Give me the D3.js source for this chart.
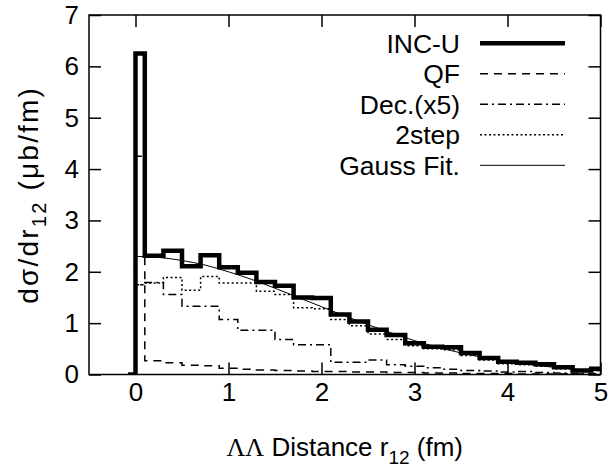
<!DOCTYPE html>
<html>
<head>
<meta charset="utf-8">
<script src="https://cdn.jsdelivr.net/npm/d3@7"></script>
<style>
  body { margin: 0; background: #fff; }
  svg { font-family: 'Liberation Sans', Arial, sans-serif; }
</style>
</head>
<body>
<svg width="610" height="473"></svg>
<script>
// bin edges (fm): short zero piece, the r=0 spike bin, then 0.2 fm bins
const binEdges = [-0.08, 0, 0.1, 0.3, 0.5, 0.7, 0.9, 1.1, 1.3, 1.5, 1.7, 1.9, 2.1, 2.3, 2.5,
	2.7, 2.9, 3.1, 3.3, 3.5, 3.7, 3.9, 4.1, 4.3, 4.5, 4.7, 4.9, 5.1]

const incU = [0, 6.25, 2.31, 2.41, 2.11, 2.32, 2.09, 1.98, 1.80, 1.73, 1.50, 1.49, 1.17, 1.03,
	0.87, 0.77, 0.61, 0.54, 0.53, 0.42, 0.32, 0.25, 0.23, 0.20, 0.14, 0.08, 0.11]
const qf = [0, 4.25, 0.27, 0.23, 0.18, 0.17, 0.12, 0.10, 0.09, 0.08, 0.07, 0.06, 0.06, 0.05,
	0.05, 0.04, 0.04, 0.03, 0.03, 0.02, 0.02, 0.02, 0.01, 0.01, 0.01, 0.01, 0.01]
const dec5 = [0, 1.75, 1.79, 1.56, 1.33, 1.33, 1.07, 0.86, 0.86, 0.68, 0.58, 0.58, 0.24, 0.24,
	0.28, 0.19, 0.16, 0.13, 0.10, 0.08, 0.07, 0.05, 0.06, 0.04, 0.03, 0.02, 0.02]
const twoStep = [0, 1.75, 1.78, 1.89, 1.64, 1.91, 1.78, 1.78, 1.62, 1.56, 1.30, 1.28, 1.07, 0.95,
	0.79, 0.68, 0.56, 0.50, 0.48, 0.37, 0.28, 0.21, 0.19, 0.16, 0.11, 0.06, 0.08]

// gauss fit curve
const fitR = [0, 0.25, 0.5, 0.75, 1, 1.25, 1.5, 1.75, 2, 2.25, 2.5, 2.75, 3, 3.25, 3.5, 3.75,
	4, 4.25, 4.5, 4.75, 5]
const fitVal = [2.30, 2.28, 2.22, 2.13, 2.00, 1.85, 1.68, 1.50, 1.32, 1.14, 0.97, 0.81, 0.66,
	0.53, 0.42, 0.33, 0.25, 0.19, 0.14, 0.10, 0.07]

const xTicks = [0, 1, 2, 3, 4, 5]
const yTicks = [0, 1, 2, 3, 4, 5, 6, 7]
const legendNames = ['INC-U', 'QF', 'Dec.(x5)', '2step', 'Gauss Fit.']

const svg = d3.select('svg')
const margin = {top: 15, right: 9.5, bottom: 98.5, left: 89}
const width = +svg.attr('width')
const height = +svg.attr('height')
const innerWidth = width - margin.left - margin.right
const innerHeight = height - margin.top - margin.bottom
const fontSize = 26

const xScale = d3.scaleLinear().domain([-0.5, 5]).range([0, innerWidth])
const yScale = d3.scaleLinear().domain([0, 7]).range([innerHeight, 0])

const g = svg.append('g')
	.attr('transform', `translate(${margin.left}, ${margin.top})`)

g.append('clipPath').attr('id', 'plotclip')
	.append('rect')
	.attr('width', innerWidth)
	.attr('height', innerHeight)

// axes, ticks pointing inwards on all four sides
const styleAxis = sel => {
	sel.select('.domain').remove()
	sel.selectAll('.tick line').attr('stroke', '#000').attr('stroke-width', 1.5)
	sel.selectAll('text').attr('font-size', fontSize).attr('fill', '#000')
		.attr('font-family', "'Liberation Sans', Arial, sans-serif")
}
// mirror axes: ticks only
const ticksOnly = sel => {
	sel.select('.domain').remove()
	sel.selectAll('.tick text').remove()
	sel.selectAll('.tick line').attr('stroke', '#000').attr('stroke-width', 1.5)
}

g.append('g')
	.attr('transform', `translate(0, ${innerHeight})`)
	.call(d3.axisBottom(xScale).tickValues(xTicks).tickSize(-12).tickPadding(8)
		.tickFormat(d3.format('d')))
	.call(styleAxis)

g.append('g')
	.call(d3.axisTop(xScale).tickValues(xTicks).tickSize(-12))
	.call(ticksOnly)

g.append('g')
	.call(d3.axisLeft(yScale).tickValues(yTicks).tickSize(-12).tickPadding(10)
		.tickFormat(d3.format('d')))
	.call(styleAxis)

g.append('g')
	.attr('transform', `translate(${innerWidth}, 0)`)
	.call(d3.axisRight(yScale).tickValues(yTicks).tickSize(-12))
	.call(ticksOnly)

// histogram steps
const stepLine = vals => {
	const pts = vals.map((v, i) => [binEdges[i], v])
	pts.push([binEdges[vals.length], vals[vals.length - 1]])
	return d3.line()
		.x(d => xScale(d[0]))
		.y(d => yScale(d[1]))
		.curve(d3.curveStepAfter)(pts)
}

const series = [
	{vals: incU, width: 4.5, dash: null},
	{vals: qf, width: 1.5, dash: '8,6'},
	{vals: dec5, width: 1.5, dash: '8,4,2,4'},
	{vals: twoStep, width: 1.5, dash: '2,2.5'}
]

const plot = g.append('g').attr('clip-path', 'url(#plotclip)')

series.forEach(s => {
	plot.append('path')
		.attr('d', stepLine(s.vals))
		.attr('fill', 'none')
		.attr('stroke', '#000')
		.attr('stroke-width', s.width)
		.attr('stroke-linejoin', 'miter')
		.attr('stroke-dasharray', s.dash)
})

plot.append('path')
	.datum(fitR.map((r, i) => [r, fitVal[i]]))
	.attr('d', d3.line()
		.x(d => xScale(d[0]))
		.y(d => yScale(d[1]))
		.curve(d3.curveMonotoneX))
	.attr('fill', 'none')
	.attr('stroke', '#000')
	.attr('stroke-width', 1)

// frame
g.append('rect')
	.attr('width', innerWidth)
	.attr('height', innerHeight)
	.attr('fill', 'none')
	.attr('stroke', '#000')
	.attr('stroke-width', 1.5)

// legend
const styles = series.concat([{width: 1, dash: null}])
const legend = g.append('g')
legendNames.forEach((name, i) => {
	const y = 28.3 + i * 30.5
	legend.append('text')
		.attr('x', 371)
		.attr('y', y)
		.attr('dy', '0.35em')
		.attr('text-anchor', 'end')
		.attr('font-size', 26.5)
		.text(name)
	legend.append('line')
		.attr('x1', 391).attr('x2', 476)
		.attr('y1', y).attr('y2', y)
		.attr('stroke', '#000')
		.attr('stroke-width', styles[i].width)
		.attr('stroke-dasharray', styles[i].dash)
})

// axis titles
const xTitle = svg.append('text')
	.attr('x', margin.left + innerWidth / 2)
	.attr('y', 456)
	.attr('text-anchor', 'middle')
	.attr('font-size', fontSize)
xTitle.append('tspan').attr('font-family', "'Liberation Serif', 'DejaVu Serif', serif").text('ΛΛ')
xTitle.append('tspan').text(' Distance r')
xTitle.append('tspan').attr('dy', 8).attr('font-size', 19).text('12')
xTitle.append('tspan').attr('dy', -8).text(' (fm)')

const yTitle = svg.append('text')
	.attr('transform', `translate(38, ${margin.top + innerHeight / 2}) rotate(-90)`)
	.attr('text-anchor', 'middle')
	.attr('font-size', 28)
	.attr('letter-spacing', 2.2)
yTitle.append('tspan').text('dσ/dr')
yTitle.append('tspan').attr('dy', 8).attr('font-size', 20).text('12')
yTitle.append('tspan').attr('dy', -8).text(' (μb/fm)')
</script>
</body>
</html>
